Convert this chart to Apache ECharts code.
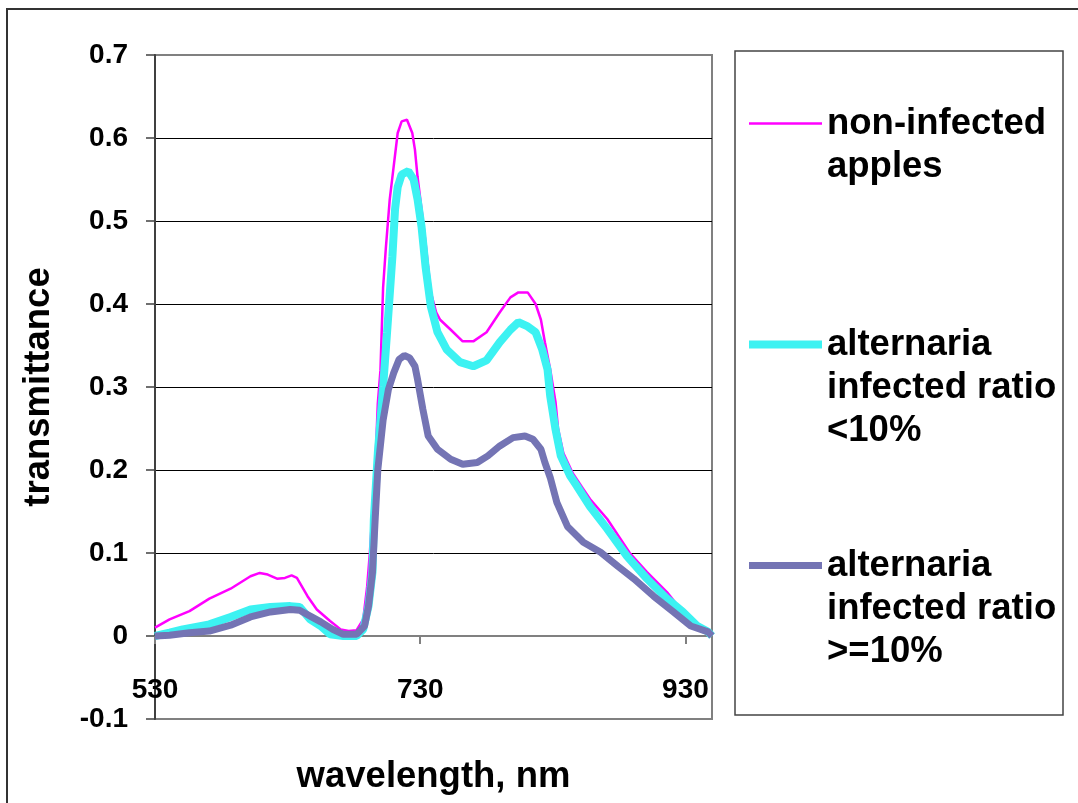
<!DOCTYPE html>
<html>
<head>
<meta charset="utf-8">
<script src="https://cdn.jsdelivr.net/npm/echarts@6/dist/echarts.min.js"></script>
<style>
html,body{margin:0;padding:0;background:#fff;}
#chart{width:1078px;height:803px;}
</style>
</head>
<body>
<div id="chart"></div>
<script>
// ---- data (wavelength nm, transmittance) ----
var seriesNames = ['non-infected apples', 'alternaria infected ratio <10%', 'alternaria infected ratio >=10%'];
var legendLines = [['non-infected', 'apples', ' '], ['alternaria', 'infected ratio', '<10%'], ['alternaria', 'infected ratio', '>=10%']];
var xTickLabels = [530, 730, 930];
var yTickMin = -0.1, yTickMax = 0.7, yTickStep = 0.1;

var nonInfected = [
  [530,0.010],[541,0.020],[556,0.030],[571,0.045],[587,0.057],[602,0.072],[609,0.076],[615,0.074],
  [622,0.069],[628,0.070],[633,0.073],[637,0.070],[645,0.048],[652,0.032],[662,0.018],[670,0.008],
  [676,0.006],[682,0.007],[687,0.020],[690,0.060],[692,0.100],[696,0.200],[698,0.280],[700,0.320],
  [702,0.420],[704,0.466],[707,0.526],[710,0.566],[713,0.606],[716,0.620],[720,0.622],[724,0.606],
  [726,0.586],[728,0.553],[731,0.514],[734,0.474],[738,0.414],[742,0.390],[745,0.381],[753,0.369],
  [762,0.355],[770,0.355],[780,0.366],[790,0.390],[798,0.408],[804,0.414],[811,0.414],[817,0.400],
  [821,0.381],[824,0.354],[828,0.321],[832,0.282],[834,0.249],[838,0.220],[845,0.196],[853,0.177],
  [858,0.165],[871,0.141],[881,0.117],[888,0.100],[901,0.077],[916,0.053],[928,0.029],[939,0.012],
  [950,0.002]
];
var infectedLow = [
  [530,0.000],[541,0.004],[551,0.008],[571,0.014],[587,0.023],[602,0.032],[617,0.035],[632,0.036],
  [639,0.035],[647,0.020],[655,0.012],[662,0.002],[672,0.000],[682,0.000],[687,0.008],[691,0.036],
  [694,0.077],[695,0.140],[698,0.220],[702,0.300],[705,0.366],[709,0.457],[711,0.514],[713,0.541],
  [716,0.556],[721,0.560],[725,0.550],[728,0.526],[731,0.493],[734,0.445],[738,0.397],[743,0.366],
  [750,0.345],[760,0.330],[770,0.325],[780,0.332],[790,0.354],[798,0.369],[804,0.378],[811,0.373],
  [817,0.366],[822,0.345],[826,0.321],[828,0.289],[832,0.249],[836,0.217],[843,0.193],[848,0.181],
  [858,0.156],[871,0.129],[886,0.096],[901,0.069],[916,0.045],[928,0.029],[939,0.012],[947,0.005],
  [950,0.000]
];
var infectedHigh = [
  [530,0.000],[541,0.001],[556,0.004],[571,0.006],[587,0.013],[602,0.023],[617,0.029],[632,0.032],
  [639,0.031],[647,0.024],[655,0.017],[664,0.008],[672,0.002],[682,0.002],[688,0.012],[691,0.036],
  [694,0.077],[696,0.140],[698,0.200],[702,0.260],[706,0.297],[710,0.317],[714,0.333],[718,0.338],
  [722,0.335],[726,0.325],[728,0.309],[732,0.273],[736,0.241],[743,0.225],[753,0.213],[762,0.207],
  [773,0.209],[781,0.217],[790,0.229],[800,0.239],[809,0.241],[815,0.237],[821,0.225],[824,0.209],
  [828,0.191],[833,0.161],[841,0.132],[853,0.113],[866,0.101],[879,0.084],[891,0.069],[906,0.048],
  [921,0.029],[934,0.012],[947,0.005],[950,0.000]
];

var FONT = 'Liberation Sans, Arial, sans-serif';
var chart = echarts.init(document.getElementById('chart'), null, {renderer: 'canvas'});

var option = {
  backgroundColor: '#ffffff',
  animation: false,
  grid: {
    left: 155, top: 55, right: 366, bottom: 84,
    containLabel: false, outerBoundsMode: 'none',
    show: true, borderColor: '#808080', borderWidth: 2, backgroundColor: 'transparent'
  },
  graphic: [
    {type: 'rect', silent: true, z: -1, shape: {x: 7, y: 9, width: 1100, height: 900},
     style: {fill: 'none', stroke: '#333', lineWidth: 2}},
    {type: 'rect', silent: true, z: -1, shape: {x: 735, y: 51, width: 328, height: 664},
     style: {fill: 'none', stroke: '#444', lineWidth: 1.5}}
  ],
  xAxis: {
    type: 'value', min: 530, max: 950, interval: 200,
    axisLine: {onZero: true, lineStyle: {color: '#808080', width: 2}},
    axisTick: {show: true, length: 8, lineStyle: {color: '#808080', width: 2}, customValues: xTickLabels},
    axisLabel: {customValues: xTickLabels, margin: -43, color: '#000', fontFamily: FONT, fontWeight: 'bold', fontSize: 28},
    splitLine: {show: false},
    name: 'wavelength, nm', nameLocation: 'middle', nameGap: 39, nameMoveOverlap: false,
    nameTextStyle: {color: '#000', fontFamily: FONT, fontWeight: 'bold', fontSize: 36.5}
  },
  yAxis: {
    type: 'value', min: yTickMin, max: yTickMax, interval: yTickStep,
    axisLine: {show: true, onZero: false, lineStyle: {color: '#404040', width: 2}},
    axisTick: {show: true, length: 9, lineStyle: {color: '#404040', width: 1.5}},
    axisLabel: {margin: 27, color: '#000', fontFamily: FONT, fontWeight: 'bold', fontSize: 28,
      formatter: function (v) { return String(Math.round(v * 10) / 10); }},
    splitLine: {show: true, showMinLine: false, showMaxLine: false, lineStyle: {color: '#000', width: 1}},
    name: 'transmittance', nameLocation: 'middle', nameGap: 98, nameMoveOverlap: false,
    nameTextStyle: {color: '#000', fontFamily: FONT, fontWeight: 'bold', fontSize: 36.5}
  },
  legend: {
    orient: 'vertical', left: 745, top: 54, padding: 0, itemGap: 47,
    itemWidth: 73, itemHeight: 10,
    data: seriesNames,
    itemStyle: {opacity: 0},
    lineStyle: {width: 'inherit'},
    formatter: function (name) {
      var lines = legendLines[seriesNames.indexOf(name)];
      return '{s| }\n' + lines.map(function (l) { return '{t|' + l + '}'; }).join('\n');
    },
    textStyle: {
      color: '#000', fontFamily: FONT, fontWeight: 'bold', fontSize: 36.5,
      rich: {
        s: {fontSize: 10, lineHeight: 86},
        t: {color: '#000', fontFamily: FONT, fontWeight: 'bold', fontSize: 36.5, lineHeight: 43}
      }
    }
  },
  series: [
    {name: seriesNames[0], type: 'line', data: nonInfected, symbol: 'none', smooth: false, z: 2,
     lineStyle: {color: '#ff00ff', width: 2.5}, itemStyle: {color: '#ff00ff'}},
    {name: seriesNames[1], type: 'line', data: infectedLow, symbol: 'none', smooth: false, z: 3,
     lineStyle: {color: '#3cf2f2', width: 8}, itemStyle: {color: '#3cf2f2'}},
    {name: seriesNames[2], type: 'line', data: infectedHigh, symbol: 'none', smooth: false, z: 4,
     lineStyle: {color: '#7474b4', width: 7}, itemStyle: {color: '#7474b4'}}
  ]
};
chart.setOption(option);
</script>
</body>
</html>
